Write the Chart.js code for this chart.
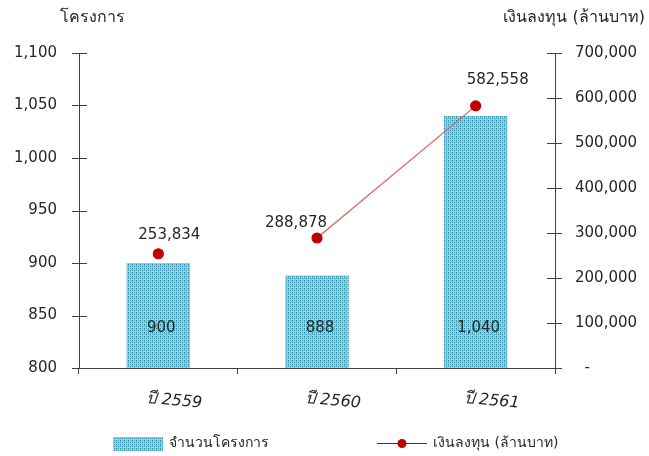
<!DOCTYPE html>
<html>
<head>
<meta charset="utf-8">
<script src="https://cdn.jsdelivr.net/npm/chart.js@4.4.0/dist/chart.umd.min.js"></script>
<style>
  body { margin: 0; background: #fff; }
  #wrap { width: 649px; height: 456px; }
</style>
</head>
<body>
<div id="wrap"><canvas id="c" width="649" height="456"></canvas></div>
<script>
const years = ['ปี 2559', 'ปี 2560', 'ปี 2561'];
const projects = [900, 888, 1040];
const investment = [253834, 288878, 582558];
const leftTicks = [800, 850, 900, 950, 1000, 1050, 1100];
const rightTicks = [0, 100000, 200000, 300000, 400000, 500000, 600000, 700000];

const FONT = 'Tahoma, "DejaVu Sans", "Noto Sans", sans-serif';
const axisColor = '#404040';
const textColor = '#262626';

// dotted teal fill like the excel pattern
function makePattern(ctx){
  const pc = document.createElement('canvas');
  pc.width = 4; pc.height = 4;
  const p = pc.getContext('2d');
  p.fillStyle = '#93cfe0';
  p.fillRect(0, 0, 4, 4);
  p.fillStyle = '#2f8ba6';
  p.fillRect(0, 0, 1, 1);
  p.fillRect(2, 2, 1, 1);
  p.fillStyle = '#5aafc7';
  p.fillRect(0, 2, 1, 1);
  p.fillRect(2, 0, 1, 1);
  p.fillRect(0, 1, 1, 1);
  return ctx.createPattern(pc, 'repeat');
}

const ctx = document.getElementById('c').getContext('2d');
const barFill = makePattern(ctx);

const extras = {
  id: 'extras',
  afterDraw(chart){
    const {ctx, chartArea: {top, bottom, left, right}, scales: {x, y, y2}} = chart;
    ctx.save();
    ctx.strokeStyle = axisColor;
    ctx.lineWidth = 1;
    // cross ticks on both value axes
    leftTicks.forEach(v => {
      const py = Math.round(y.getPixelForValue(v)) + 0.5;
      ctx.beginPath(); ctx.moveTo(left - 7, py); ctx.lineTo(left + 8, py); ctx.stroke();
    });
    rightTicks.forEach(v => {
      const py = Math.round(y2.getPixelForValue(v)) + 0.5;
      ctx.beginPath(); ctx.moveTo(right - 8, py); ctx.lineTo(right + 7, py); ctx.stroke();
    });

    // axis titles
    ctx.fillStyle = textColor;
    ctx.font = '16px ' + FONT;
    ctx.textBaseline = 'middle';
    ctx.textAlign = 'left';
    ctx.fillText('โครงการ', 60, 18);
    ctx.textAlign = 'right';
    ctx.fillText('เงินลงทุน (ล้านบาท)', 645, 18);

    // bar value labels near the base
    ctx.textAlign = 'center';
    ctx.font = '15px ' + FONT;
    chart.getDatasetMeta(0).data.forEach((bar, i) => {
      ctx.fillText(projects[i].toLocaleString('en-US'), bar.x + 3, bottom - 40);
    });

    // line value labels
    const dx = [11, -21, 22], dy = [-19, -15, -26];
    chart.getDatasetMeta(1).data.forEach((pt, i) => {
      ctx.fillText(investment[i].toLocaleString('en-US'), pt.x + dx[i], pt.y + dy[i]);
    });

    // slanted italic category labels
    ctx.font = 'italic 16px ' + FONT;
    years.forEach((lab, i) => {
      const px = x.getPixelForValue(i);
      ctx.save();
      ctx.translate(px + 16, bottom + 33);
      ctx.rotate(0.09);
      ctx.fillText(lab, 0, 0);
      ctx.restore();
    });

    // legend
    ctx.font = '14px ' + FONT;
    ctx.textAlign = 'left';
    ctx.fillStyle = barFill;
    ctx.fillRect(113, 437, 50, 14);
    ctx.fillStyle = textColor;
    ctx.fillText('จำนวนโครงการ', 169, 443);
    ctx.strokeStyle = '#c00000';
    ctx.beginPath(); ctx.moveTo(377, 443.5); ctx.lineTo(427, 443.5); ctx.stroke();
    ctx.fillStyle = '#c00000';
    ctx.beginPath(); ctx.arc(402, 443.5, 4.5, 0, Math.PI * 2); ctx.fill();
    ctx.fillStyle = textColor;
    ctx.fillText('เงินลงทุน (ล้านบาท)', 433, 443);
    ctx.restore();
  }
};

new Chart(ctx, {
  data: {
    labels: years,
    datasets: [
      {
        type: 'bar',
        label: 'จำนวนโครงการ',
        data: projects,
        yAxisID: 'y',
        backgroundColor: barFill,
        categoryPercentage: 0.4,
        barPercentage: 1,
        order: 2
      },
      {
        type: 'line',
        label: 'เงินลงทุน (ล้านบาท)',
        data: investment,
        yAxisID: 'y2',
        borderColor: '#dc5a5a',
        borderWidth: 1.2,
        pointBackgroundColor: '#c00000',
        pointBorderColor: '#c00000',
        pointRadius: 5,
        segment: {
          borderColor: c => c.p0DataIndex === 0 ? 'rgba(0,0,0,0)' : '#dc5a5a'
        },
        order: 1
      }
    ]
  },
  options: {
    responsive: false,
    animation: false,
    layout: { padding: { top: 53, left: 0, right: 0, bottom: 0 } },
    plugins: { legend: { display: false }, tooltip: { enabled: false } },
    scales: {
      x: {
        offset: true,
        grid: { drawOnChartArea: false, tickLength: 6, color: axisColor, offset: true },
        border: { color: axisColor },
        ticks: { display: false },
        afterFit(s){ s.height = 88; }
      },
      y: {
        position: 'left',
        min: 800, max: 1100,
        afterBuildTicks(s){ s.ticks = leftTicks.map(v => ({value: v})); },
        grid: { display: false },
        border: { color: axisColor },
        ticks: {
          color: textColor,
          font: { family: FONT, size: 15 },
          padding: 14,
          callback: v => v.toLocaleString('en-US')
        },
        afterFit(s){ s.width = 79; }
      },
      y2: {
        position: 'right',
        min: 0, max: 700000,
        afterBuildTicks(s){ s.ticks = rightTicks.map(v => ({value: v})); },
        grid: { display: false },
        border: { color: axisColor },
        ticks: {
          color: textColor,
          font: { family: FONT, size: 15 },
          padding: 12,
          callback: v => v === 0 ? '  -' : v.toLocaleString('en-US')
        },
        afterFit(s){ s.width = 94; }
      }
    }
  },
  plugins: [extras]
});
</script>
</body>
</html>
